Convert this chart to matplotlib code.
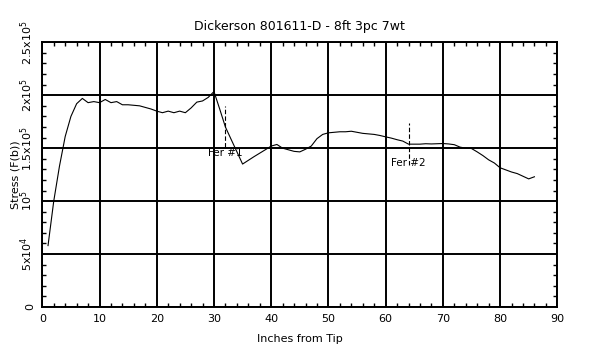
import matplotlib
matplotlib.use("Agg")
import matplotlib.pyplot as plt
from matplotlib.ticker import MultipleLocator

title = "Dickerson 801611-D - 8ft 3pc 7wt"
xlabel = "Inches from Tip"
ylabel = "Stress (F(b))"

inches = list(range(1, 87))
stress = [58000, 100000, 133000, 161000, 180000, 192000, 197000, 193000, 194000, 193000,
          196000, 193000, 194000, 191000, 191000, 190500, 190000, 188500, 187000, 185000,
          183500, 185000, 183500, 185000, 183500, 188000, 193500, 194600, 198000, 203500,
          187000, 170000, 158300, 146700, 135000, 138500, 142000, 145300, 148600, 152000,
          153500, 150000, 148500, 147000, 146500, 149000, 152000, 159000, 163000, 164500,
          165000, 165500, 165500, 166000, 165000, 164000, 163500, 163000, 162000, 160700,
          159500, 158000, 156700, 153800, 153800, 153800, 154200, 154000, 154200, 154400,
          154000, 153300, 151000, 150000, 149700, 146500, 143000, 139000, 136000, 131500,
          129500, 127500, 126000, 123500, 121000, 123000]

ferrule_x = [32, 64]
ferrule_top = [189600, 174000]
ferrule_bottom = [151000, 134000]
ferrule_label_y = [145500, 136000]
ferrule_labels = ["Fer #1", "Fer #2"]

xticks = [0, 10, 20, 30, 40, 50, 60, 70, 80, 90]
yticks = [0, 50000, 100000, 150000, 200000, 250000]
yticklabels = ["0", r"5x10$^4$", r"10$^5$", r"1.5x10$^5$", r"2x10$^5$", r"2.5x10$^5$"]

plt.rcParams['font.family'] = ['DejaVu Sans']
fig = plt.figure(figsize=(6, 3.5), dpi=100)
ax = fig.add_axes([42.3 / 600, 43 / 350, 515 / 600, 264.7 / 350])

ax.plot(inches, stress, color='black', linewidth=0.8, zorder=3)

for fx, ft, fb, ly, lab in zip(ferrule_x, ferrule_top, ferrule_bottom, ferrule_label_y, ferrule_labels):
    ax.plot([fx, fx], [fb, ft], color='black', linewidth=0.8, linestyle=(0, (4, 2)), zorder=3)
    ax.text(fx, ly, lab, ha='center', va='center', fontsize=7.5, zorder=4)

ax.set_xlim(0, 90)
ax.set_ylim(0, 250000)
ax.set_xticks(xticks)
ax.set_yticks(yticks)
ax.set_yticklabels(yticklabels, rotation=90, va='center')
ax.xaxis.set_minor_locator(MultipleLocator(2))
ax.yaxis.set_minor_locator(MultipleLocator(10000))

ax.grid(True, which='major', color='black', linewidth=1.4)
ax.tick_params(which='both', direction='in', top=True, right=True, color='black')
ax.tick_params(which='major', length=0, labelsize=8, pad=5)
ax.tick_params(which='minor', length=3.2, width=1.0)
for s in ax.spines.values():
    s.set_linewidth(1.4)

ax.set_title(title, fontsize=9, pad=9)
ax.set_xlabel(xlabel, fontsize=8, labelpad=7)
ax.set_ylabel(ylabel, fontsize=8, labelpad=-1)

fig.savefig("out.png", dpi=100)
